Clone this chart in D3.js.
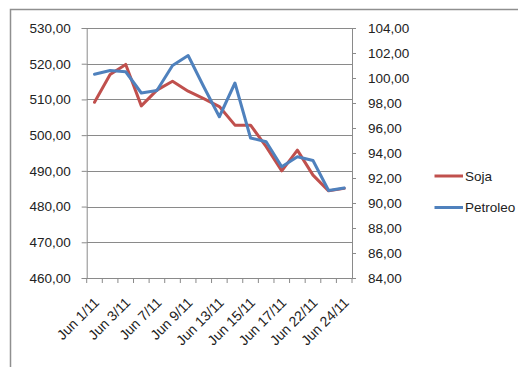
<!DOCTYPE html>
<html><head><meta charset="utf-8">
<script src="https://cdn.jsdelivr.net/npm/d3@7"></script>
<style>
html,body{margin:0;padding:0;background:#fff;}
svg{display:block;}
text{font-family:"Liberation Sans",Arial,sans-serif;font-size:13.5px;fill:#222;}
</style></head>
<body>
<svg id="c" width="518" height="367"></svg>
<script>
const categories = ["Jun 1/11","Jun 2/11","Jun 3/11","Jun 6/11","Jun 7/11","Jun 8/11","Jun 9/11","Jun 10/11","Jun 13/11","Jun 14/11","Jun 15/11","Jun 16/11","Jun 17/11","Jun 21/11","Jun 22/11","Jun 23/11","Jun 24/11"];
const soja = [509.2, 517.0, 519.8, 508.2, 512.6, 515.1, 512.3, 510.2, 508.0, 502.8, 502.8, 496.8, 490.0, 495.8, 488.8, 484.4, 485.1];
const petroleo = [100.3, 100.6, 100.5, 98.8, 99.0, 101.0, 101.8, 99.3, 96.9, 99.6, 95.2, 94.9, 92.9, 93.7, 93.4, 91.0, 91.2];
const leftTicks = [460,470,480,490,500,510,520,530];
const rightTicks = [84,86,88,90,92,94,96,98,100,102,104];
const seriesNames = ["Soja","Petroleo"];
const seriesColors = ["#C0504D","#4F81BD"];

const svg = d3.select("#c");
const L = 86.7, R = 352, T = 28, B = 278;
const x = d3.scaleBand().domain(categories).range([L, R]);
const y1 = d3.scaleLinear().domain([460,530]).range([B, T]);
const y2 = d3.scaleLinear().domain([84,104]).range([B, T]);
const fmt = v => v.toFixed(2).replace(".", ",");
const grey = "#8a8a8a";

// outer frame (cut at right/bottom)
svg.append("path").attr("d", "M10.5,367 V9.5 H518").attr("fill","none").attr("stroke","#8f8f8f").attr("stroke-width",1.5);

// gridlines
svg.append("g").selectAll("line").data(leftTicks).join("line")
  .attr("x1", L).attr("x2", R).attr("y1", d => Math.round(y1(d))+0.5).attr("y2", d => Math.round(y1(d))+0.5)
  .attr("stroke", grey).attr("stroke-width",1);

// left axis
const gl = svg.append("g").attr("transform", `translate(${L},0)`)
  .call(d3.axisLeft(y1).tickValues(leftTicks).tickFormat(fmt).tickSize(5).tickPadding(11));
// right axis
const gr = svg.append("g").attr("transform", `translate(${R},0)`)
  .call(d3.axisRight(y2).tickValues(rightTicks).tickFormat(fmt).tickSize(4).tickPadding(12));
// bottom axis
const gb = svg.append("g").attr("transform", `translate(0,${B})`)
  .call(d3.axisBottom(x).tickSize(0).tickFormat((d,i) => i % 2 === 0 ? d : ""));
[gl, gr, gb].forEach(g => {
  g.select(".domain").attr("stroke", grey);
  g.selectAll(".tick line").attr("stroke", grey);
  g.selectAll("text").style("font-family",'"Liberation Sans",Arial,sans-serif').style("font-size","13.5px").attr("fill","#222");
});
gb.selectAll(".tick text")
  .style("font-size","14px")
  .attr("text-anchor","end")
  .attr("transform","translate(2,22) rotate(-45)")
  .attr("dy","0.35em").attr("y",0).attr("x",0);
// category boundary tick marks
const bounds = categories.map(c => x(c)).concat([R]);
svg.append("g").selectAll("line").data(bounds).join("line")
  .attr("x1", d => d).attr("x2", d => d).attr("y1", B).attr("y2", B+5)
  .attr("stroke", grey);

// lines
const mk = ys => d3.line().x((d,i) => x(categories[i]) + x.bandwidth()/2).y(d => ys(d));
svg.append("path").datum(soja).attr("d", mk(y1)).attr("fill","none")
  .attr("stroke", seriesColors[0]).attr("stroke-width",3).attr("stroke-linejoin","round").attr("stroke-linecap","round");
svg.append("path").datum(petroleo).attr("d", mk(y2)).attr("fill","none")
  .attr("stroke", seriesColors[1]).attr("stroke-width",3).attr("stroke-linejoin","round").attr("stroke-linecap","round");

// legend
const lg = svg.append("g");
seriesNames.forEach((n, i) => {
  const yy = 176 + i*31.5;
  lg.append("line").attr("x1",434.5).attr("x2",463).attr("y1",yy).attr("y2",yy)
    .attr("stroke", seriesColors[i]).attr("stroke-width",3);
  lg.append("text").attr("x",465).attr("y",yy).attr("dy","0.35em").text(n);
});
</script>
</body></html>
